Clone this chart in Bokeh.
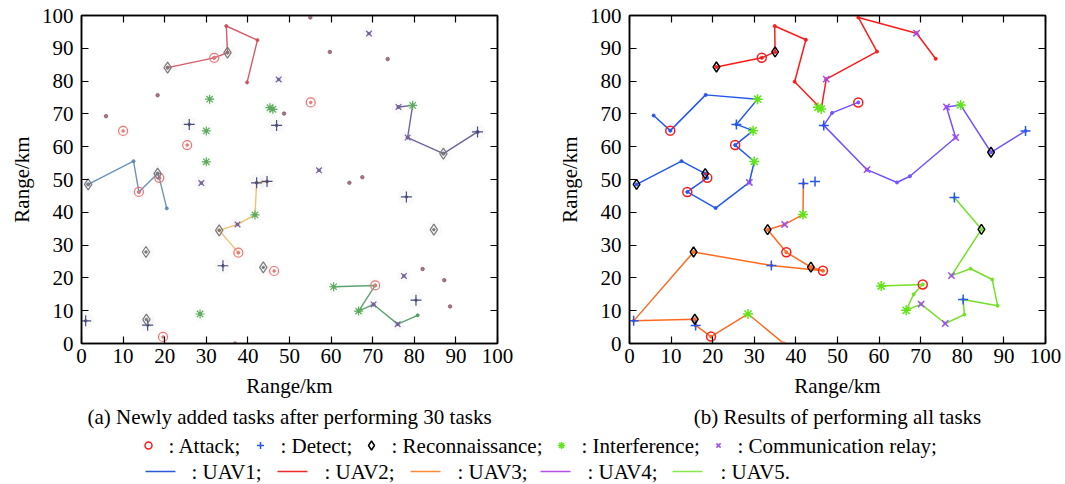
from bokeh.plotting import figure
from bokeh.models import Range1d, FixedTicker, LinearAxis
from bokeh.layouts import column, row
from bokeh.embed import file_html
from bokeh.resources import INLINE
from bokeh.core.properties import value

FONT = "Liberation Serif"
FONT_SIZE = "21px"
TICKS = [0, 10, 20, 30, 40, 50, 60, 70, 80, 90, 100]
TICK_LABELS = ["0", "10", "20", "30", "40", "50", "60", "70", "80", "90", "100"]
AXIS_LABEL = "Range/km"
CAPTION_A = "(a) Newly added tasks after performing 30 tasks"
CAPTION_B = "(b) Results of performing all tasks"
TASK_NAMES = [": Attack;", ": Detect;", ": Reconnaissance;", ": Interference;", ": Communication relay;"]
UAV_NAMES = [": UAV1;", ": UAV2;", ": UAV3;", ": UAV4;", ": UAV5."]

# ---------------- panel (a): state after 30 tasks ----------------
a_attack_x = [10.0, 25.4, 31.9, 13.8, 18.7, 37.7, 19.6, 46.3, 55.1, 70.6]
a_attack_y = [64.8, 60.5, 87.1, 46.2, 50.5, 27.7, 2.0, 22.1, 73.5, 17.7]
a_detect_x = [25.9, 42.1, 44.6, 46.9, 78.1, 34.0, 1.0, 15.9, 80.4, 95.2]
a_detect_y = [66.8, 49.0, 49.4, 66.5, 44.7, 23.7, 6.9, 5.6, 13.2, 64.5]
a_recon_x = [20.7, 35.1, 1.6, 18.3, 15.5, 15.6, 33.1, 43.7, 84.7, 87.0]
a_recon_y = [84.1, 88.7, 48.5, 51.8, 27.9, 7.3, 34.5, 23.2, 34.7, 57.9]
a_interf_x = [30.8, 30.0, 30.0, 45.3, 46.0, 41.7, 28.5, 60.6, 66.6, 79.6]
a_interf_y = [74.5, 64.8, 55.4, 71.9, 71.4, 39.2, 9.0, 17.3, 9.9, 72.6]
a_relay_x = [28.8, 47.4, 69.1, 57.1, 76.2, 78.4, 37.5, 77.5, 70.2, 76.0]
a_relay_y = [48.9, 80.5, 94.5, 52.8, 72.1, 62.8, 36.3, 20.6, 11.9, 5.9]
a_waypoint_x = [5.9, 18.3, 55.0, 59.7, 73.6, 48.7, 64.4, 67.5, 82.0, 87.2, 88.6, 36.9]
a_waypoint_y = [69.3, 75.7, 99.4, 88.9, 86.7, 70.1, 49.0, 50.7, 22.7, 19.3, 11.3, 0.0]

a_uav1_x = [1.6, 12.5, 13.8, 18.3, 18.7, 20.5]
a_uav1_y = [48.5, 55.6, 46.2, 51.8, 50.5, 41.2]
a_uav2_x = [20.7, 31.9, 35.1, 34.8, 42.3, 39.8]
a_uav2_y = [84.1, 87.1, 88.7, 96.8, 92.5, 79.6]
a_uav3_x = [37.7, 33.1, 37.5, 41.7, 42.1, 44.6]
a_uav3_y = [27.7, 34.5, 36.3, 39.2, 49.0, 49.4]
a_uav4_x = [76.2, 79.6, 78.4, 87.0, 95.2]
a_uav4_y = [72.1, 72.6, 62.8, 57.9, 64.5]
a_uav5_x = [60.6, 70.6, 66.6, 70.2, 76.0, 80.8]
a_uav5_y = [17.3, 17.7, 9.9, 11.9, 5.9, 8.6]

# ---------------- panel (b): all tasks performed ----------------
b_attack_x = [9.8, 25.4, 31.8, 13.9, 18.7, 37.7, 19.6, 46.5, 55.0, 70.5]
b_attack_y = [64.9, 60.5, 87.1, 46.2, 50.5, 27.8, 2.1, 22.2, 73.5, 18.0]
b_detect_x = [25.7, 41.8, 44.6, 46.7, 78.1, 34.1, 1.0, 15.9, 80.2, 95.2]
b_detect_y = [66.8, 48.8, 49.4, 66.5, 44.5, 23.8, 6.9, 5.5, 13.4, 64.8]
b_recon_x = [20.9, 35.0, 1.7, 18.2, 15.4, 15.7, 33.2, 43.6, 84.6, 86.9]
b_recon_y = [84.3, 88.9, 48.5, 51.8, 27.9, 7.4, 34.7, 23.3, 34.8, 58.3]
b_interf_x = [30.8, 29.7, 30.0, 45.3, 46.1, 41.7, 28.5, 60.5, 66.5, 79.6]
b_interf_y = [74.5, 64.9, 55.5, 72.0, 71.5, 39.3, 9.0, 17.5, 10.1, 72.7]
b_relay_x = [28.8, 47.3, 69.0, 57.1, 76.2, 78.4, 37.3, 77.4, 70.1, 75.9]
b_relay_y = [49.1, 80.6, 94.6, 53.0, 72.1, 62.8, 36.3, 20.7, 12.0, 6.1]

b_uav1_x = [1.7, 12.5, 18.2, 18.7, 13.9, 20.7, 28.8, 30.0, 25.4, 29.7, 25.7, 30.8, 18.3, 9.8, 5.8]
b_uav1_y = [48.5, 55.6, 51.8, 50.5, 46.2, 41.3, 49.1, 55.5, 60.5, 64.9, 66.8, 74.5, 75.8, 64.9, 69.5]
b_uav2_x = [20.9, 31.8, 35.0, 34.9, 42.4, 39.7, 46.1, 47.3, 59.5, 55.0, 69.0, 73.6]
b_uav2_y = [84.3, 87.1, 88.9, 96.8, 92.6, 79.8, 71.5, 80.6, 89.0, 99.4, 94.6, 86.8]
b_uav3_x = [41.8, 41.7, 37.3, 33.2, 37.7, 43.6, 46.5, 34.1, 15.4, 1.0, 15.7, 15.9, 19.6, 28.5, 37.1]
b_uav3_y = [48.8, 39.3, 36.3, 34.7, 27.8, 23.3, 22.2, 23.8, 27.9, 6.9, 7.4, 5.5, 2.1, 9.0, 0.0]
b_uav4_x = [55.0, 48.7, 46.7, 57.1, 64.3, 67.4, 78.4, 76.2, 79.6, 86.9, 95.2]
b_uav4_y = [73.5, 70.3, 66.5, 53.0, 49.1, 51.0, 62.8, 72.1, 72.7, 58.3, 64.8]
b_uav5_x = [78.1, 84.6, 77.4, 82.0, 87.2, 88.5, 80.2, 80.5, 75.9, 70.1, 66.5, 68.3, 70.5, 60.5]
b_uav5_y = [44.5, 34.8, 20.7, 22.8, 19.5, 11.5, 13.4, 8.8, 6.1, 12.0, 10.1, 15.0, 18.0, 17.5]

# colours
A_ROUTE_COLORS = ["#5a86b8", "#d2485a", "#efbb62", "#605292", "#4a9a60"]
A_TASK_COLORS = ["#e67878", "#4a4e7e", "#7a7a7a", "#5eab5e", "#74609c"]
A_WAYPOINT_COLOR = "#8c5868"
B_ROUTE_COLORS = ["#2457f0", "#ff1a1a", "#ff6a1f", "#7452ff", "#74e026"]
B_TASK_COLORS = ["#ff1a1a", "#2457f0", "#000000", "#5ee619", "#a24cf5"]
LEGEND_ROUTE_COLORS = ["#2a5ad8", "#ee2a2a", "#ff8a3a", "#b84ee6", "#86e84a"]


def style_axes(p):
    ticker = FixedTicker(ticks=TICKS)
    overrides = {t: lab for t, lab in zip(TICKS, TICK_LABELS)}
    blanks = {t: "" for t in TICKS}
    for ax, standoff, lab_standoff in ((p.xaxis[0], 5, 8), (p.yaxis[0], 8, 5)):
        ax.ticker = ticker
        ax.major_label_overrides = overrides
        ax.major_tick_in = 7
        ax.major_tick_out = 0
        ax.minor_tick_line_color = None
        ax.axis_line_width = 1.5
        ax.axis_line_color = "black"
        ax.major_tick_line_width = 1.2
        ax.major_label_text_font = FONT
        ax.major_label_text_font_size = FONT_SIZE
        ax.major_label_text_color = "black"
        ax.major_label_standoff = standoff
        ax.axis_label_text_font = FONT
        ax.axis_label_text_font_size = FONT_SIZE
        ax.axis_label_text_font_style = "normal"
        ax.axis_label_text_color = "black"
        ax.axis_label_standoff = lab_standoff
    for loc in ("above", "right"):
        ax = LinearAxis(ticker=ticker, major_tick_in=7, major_tick_out=0,
                        minor_tick_line_color=None, axis_line_width=1.5,
                        major_tick_line_width=1.2, major_label_overrides=blanks,
                        major_label_text_font_size="2px", major_label_standoff=0)
        p.add_layout(ax, loc)
    p.xgrid.visible = False
    p.ygrid.visible = False
    p.outline_line_color = "black"
    p.outline_line_width = 1.5


def make_panel(width, border_left, border_right):
    p = figure(width=width, height=400, x_range=Range1d(0, 100), y_range=Range1d(0, 100),
               output_backend="svg", toolbar_location=None,
               min_border_left=border_left, min_border_right=border_right,
               min_border_top=15, min_border_bottom=57,
               x_axis_label=AXIS_LABEL, y_axis_label=AXIS_LABEL)
    style_axes(p)
    p.background_fill_color = "white"
    p.border_fill_color = "white"
    return p


def draw_tasks(p, xs, ys, colors, lw, sizes, center_dots=False, halo=False):
    markers = ["circle", "cross", "diamond", "asterisk", "x"]
    for (tx, ty), m, c, s in zip(zip(xs, ys), markers, colors, sizes):
        if halo:
            p.scatter(tx, ty, marker="circle", size=s + 6, line_color=None,
                      fill_color=c, fill_alpha=0.035)
        if m == "circle" or m == "diamond":
            p.scatter(tx, ty, marker=m, size=s, line_color=c, fill_color=None, line_width=lw)
        else:
            p.scatter(tx, ty, marker=m, size=s, line_color=c, line_width=lw)
        if center_dots:
            p.scatter(tx, ty, marker="circle", size=2.5, line_color=c, fill_color=c)


# ---- panel (a)
pa = make_panel(540, 81, 43)
a_routes = [(a_uav1_x, a_uav1_y), (a_uav2_x, a_uav2_y), (a_uav3_x, a_uav3_y),
            (a_uav4_x, a_uav4_y), (a_uav5_x, a_uav5_y)]
for (rx, ry), c in zip(a_routes, A_ROUTE_COLORS):
    pa.line(rx, ry, line_color=c, line_width=1.4, line_alpha=0.9)
    pa.scatter(rx, ry, marker="circle", size=3, line_color=c, fill_color=c, alpha=0.9)
pa.scatter(a_waypoint_x, a_waypoint_y, marker="circle", size=3.5,
           line_color=A_WAYPOINT_COLOR, fill_color=A_WAYPOINT_COLOR, alpha=0.8)
draw_tasks(pa, [a_attack_x, a_detect_x, a_recon_x, a_interf_x, a_relay_x],
           [a_attack_y, a_detect_y, a_recon_y, a_interf_y, a_relay_y],
           A_TASK_COLORS, 1.2, [9, 11, 11, 9, 8], center_dots=True, halo=True)

# ---- panel (b)
pb = make_panel(525, 89, 20)
b_routes = [(b_uav1_x, b_uav1_y), (b_uav2_x, b_uav2_y), (b_uav3_x, b_uav3_y),
            (b_uav4_x, b_uav4_y), (b_uav5_x, b_uav5_y)]
for (rx, ry), c in zip(b_routes, B_ROUTE_COLORS):
    pb.line(rx, ry, line_color=c, line_width=1.5)
    pb.scatter(rx, ry, marker="circle", size=3, line_color=c, fill_color=c)
draw_tasks(pb, [b_attack_x, b_detect_x, b_recon_x, b_interf_x, b_relay_x],
           [b_attack_y, b_detect_y, b_recon_y, b_interf_y, b_relay_y],
           B_TASK_COLORS, 1.5, [9, 10, 10, 10, 9])

# ---- captions and legend (pixel layout strip)
pl = figure(width=1065, height=84, x_range=Range1d(0, 1065), y_range=Range1d(84, 0),
            output_backend="svg", toolbar_location=None, min_border=0,
            x_axis_type=None, y_axis_type=None)
pl.xgrid.visible = False
pl.ygrid.visible = False
pl.outline_line_color = None

pl.text(x=[289, 837], y=[16, 16], text=[CAPTION_A, CAPTION_B], text_font=value(FONT),
        text_font_size=FONT_SIZE, text_align="center", text_baseline="middle", text_color="black")

row1_y = 45
row2_y = 71
sym_x = [148, 260, 371, 561, 718]
txt_x = [168, 280, 391, 581, 737]
legend_markers = ["circle", "cross", "diamond", "asterisk", "x"]
legend_sizes = [7, 7, 9, 7, 6]
for sx, m, c, s in zip(sym_x, legend_markers, B_TASK_COLORS, legend_sizes):
    if m in ("circle", "diamond"):
        pl.scatter([sx], [row1_y], marker=m, size=s, line_color=c, fill_color=None, line_width=1.5)
    else:
        pl.scatter([sx], [row1_y], marker=m, size=s, line_color=c, line_width=1.5)
pl.text(x=txt_x, y=[row1_y] * 5, text=TASK_NAMES, text_font=value(FONT), text_font_size=FONT_SIZE,
        text_align="left", text_baseline="middle", text_color="black")

line_x0 = [145, 277, 410, 540, 672]
line_txt_x = [191, 324, 457, 587, 720]
for x0, c in zip(line_x0, LEGEND_ROUTE_COLORS):
    pl.line([x0, x0 + 30], [row2_y, row2_y], line_color=c, line_width=1.5)
pl.text(x=line_txt_x, y=[row2_y] * 5, text=UAV_NAMES, text_font=value(FONT), text_font_size=FONT_SIZE,
        text_align="left", text_baseline="middle", text_color="black")

layout = column(row(pa, pb), pl)
open("out.html", "w").write(file_html(layout, INLINE))
